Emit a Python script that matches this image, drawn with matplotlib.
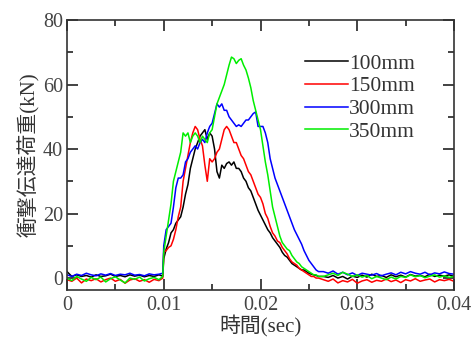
import numpy as np
import matplotlib
matplotlib.use("Agg")
import matplotlib.pyplot as plt
from matplotlib.ticker import MultipleLocator

plt.rcParams['font.family'] = ['Liberation Serif', 'Noto Sans CJK JP']

# time grid (seconds): baseline, event, tail
t_A = np.append(np.arange(0, 96, 5), 99) / 10000.0
t_B = np.arange(100, 260.1, 2.5) / 10000.0
t_C = np.arange(265, 401, 5) / 10000.0
time = np.concatenate([t_A, t_B, t_C])

labels = ["100mm", "150mm", "300mm", "350mm"]
colors = ["#000000", "#ff0000", "#0000ff", "#00ee00"]

black_A = [2, 0.5, 1, 0.5, 0.8, 0.3, 1, 0.5, 0.7, 1.2, 0.5, 0.8, 0.4, 1, 0.6, 0.9, 0.4, 0.8, 0.5, 1, 0.6]
black_B = [6, 9, 11, 14, 15, 17, 18, 19, 22, 26, 29, 34, 37, 40, 42, 44, 45, 46, 43, 45,
           44, 40, 33, 31, 35, 34, 35.5, 36, 35, 36, 34, 34, 33, 31, 30, 28, 27, 25, 23, 21,
           19.5, 18, 16.5, 15, 14, 12.5, 11.5, 10.5, 9.5, 8, 7, 6.5, 5.5, 4.5, 4, 3.5, 3, 2.5, 2.5, 2,
           1.5, 1.2, 1, 0.8, 0.5]
black_C = [0.5, 0.2, 0.8, 0, 0.5, -0.3, 0.6, 0.2, 0.9, 0.3, 1.2, 0.5, 0.8, 0.2, 1, 0.4, 0.9, 0.3,
           1.1, 0.6, 0.8, 0.4, 1.2, 0.5, 0.9, 0.6, 1, 0.5]

red_A = [-0.5, -1, 0, -1.5, -0.3, -0.8, -0.2, -1.2, -0.5, 0, -1, -0.4, -1.6, -0.6, -0.2, -1, -0.5, -1.3, -0.4, -0.8, 0]
red_B = [8, 8.5, 9.5, 10, 12, 15, 19, 22, 30, 34, 38, 42, 45, 47, 46, 43, 41, 35, 30, 37,
         36, 37, 39, 40, 43, 46, 47, 46, 44, 42, 42, 40, 38, 37, 35, 33, 32, 30, 28, 26,
         25, 23, 20, 18.5, 16, 14, 13, 11.5, 11, 9.5, 8.5, 7.5, 6, 5, 4.5, 4, 3, 2.5, 2, 1.5,
         1, 0.5, 0.5, 0, 0]
red_C = [-0.5, -1, -0.3, -1.5, -0.8, -1.2, -0.4, -1.6, -0.9, -0.5, -1.3, -0.7, -1, -0.3, -1.1,
         -0.6, -1.4, -0.5, -0.9, -0.2, -1, -0.6, -0.3, -1.2, -0.5, -0.8, -0.4, -1]

blue_A = [1, 0.5, 1.2, 0.8, 1.5, 1, 0.7, 1.3, 0.9, 1.4, 0.8, 1.2, 1, 1.5, 0.9, 1.1, 0.7, 1.3, 1, 1.2, 1.5]
blue_B = [10, 15, 16, 17, 22, 28, 31, 31, 32, 36, 37, 39, 40, 41, 40, 42, 43, 42, 45, 47,
          48, 51, 54, 53, 54, 52, 52, 50, 49, 48, 47, 47.5, 47, 48, 49, 49, 50, 51, 51.5, 47,
          47, 47, 45, 42, 37, 34, 31, 29, 27, 25, 23, 21, 19, 17, 15, 13.5, 12, 10.5, 8.5, 7,
          5.5, 4.5, 3.5, 2.5, 2]
blue_C = [2, 1.5, 2.2, 1.2, 1.8, 1, 1.6, 0.8, 1.5, 1.2, 0.9, 1.4, 0.7, 1.2, 1.6, 1, 1.8, 1.3,
          2, 1.5, 1.2, 1.8, 1, 1.6, 1.3, 1.9, 1.4, 1.2]

green_A = [0, -0.8, 0.5, -0.3, -1, 0.2, -0.5, 0.3, -1.2, -0.2, 0.4, -0.6, -1.5, 0, -0.4, 0.3, -0.9, -0.2, 0.2, -0.5, 0.5]
green_B = [8, 13, 18, 23, 30, 33, 36, 39, 45, 44, 45, 42, 44, 45, 44, 42, 44, 43, 42, 45,
           46, 50, 54, 56, 58, 60, 63, 66, 68.5, 68, 66.5, 67.5, 68, 66, 64.5, 62, 59, 55, 52, 49,
           46, 41, 36, 32, 27, 22, 19, 16, 13, 11, 10, 9, 8.5, 7, 6, 5, 4.5, 3.5, 3, 2.5,
           2, 1.5, 1, 1, 0.5]
green_C = [0.5, 1, 1.5, 0.8, 1.8, 1.2, 0.5, 1, 0.3, 0.8, -0.2, 0.5, 0, -0.5, 0.3, -0.3, 0.5, 0.2,
           1, 0.4, 0.8, 0.1, 0.6, 1, 0.3, 0.7, 0.2, 0.5]

series = [black_A + black_B + black_C,
          red_A + red_B + red_C,
          blue_A + blue_B + blue_C,
          green_A + green_B + green_C]

x_ticks = [0, 0.01, 0.02, 0.03, 0.04]
x_tick_labels = ["0", "0.01", "0.02", "0.03", "0.04"]
y_ticks = [0, 20, 40, 60, 80]

fig = plt.figure(figsize=(4.73, 3.43), dpi=100)
ax = fig.add_axes([67/473, 1 - 290/343, (454-67)/473, (290-20)/343])

for vals, lab, c in zip(series, labels, colors):
    ax.plot(time, vals, color=c, lw=1.1, label=lab)

ax.set_xlim(0, 0.04)
ax.set_ylim(-3.7, 80)
ax.set_xticks(x_ticks)
ax.set_xticklabels(x_tick_labels)
ax.set_yticks(y_ticks)
ax.xaxis.set_minor_locator(MultipleLocator(0.005))
ax.yaxis.set_minor_locator(MultipleLocator(10))
ax.tick_params(which='both', direction='in', top=True, right=True, width=1.2,
               labelsize=14.5, colors='#222222', labelcolor='#444444')
ax.tick_params(which='major', length=8)
ax.tick_params(which='minor', length=4.5)
ax.tick_params(axis='x', pad=4)
ax.tick_params(axis='y', pad=3)
for s in ax.spines.values():
    s.set_linewidth(1.2)
    s.set_color('#333333')

ax.set_xlabel("時間(sec)", fontsize=15, color='#333333', labelpad=1)
ax.set_ylabel("衝撃伝達荷重(kN)", fontsize=15, color='#333333', labelpad=2)

leg = ax.legend(loc='upper left', bbox_to_anchor=(0.615, 0.875), frameon=False,
                fontsize=15.5, handlelength=2.0, handletextpad=0.05, labelspacing=0.12,
                borderpad=0, borderaxespad=0)
for t in leg.get_texts():
    t.set_color('#333333')

fig.savefig("out.png", dpi=100)
